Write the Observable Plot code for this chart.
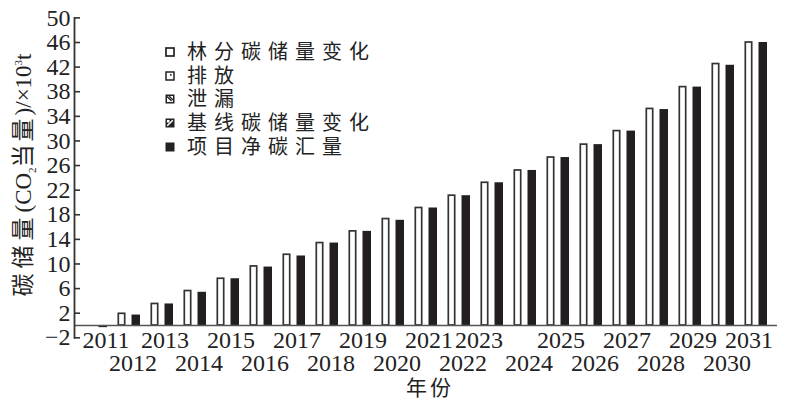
<!DOCTYPE html>
<html><head><meta charset="utf-8">
<script src="https://cdn.jsdelivr.net/npm/d3@7"></script>
<script src="https://cdn.jsdelivr.net/npm/@observablehq/plot@0.6"></script>
<style>
body{margin:0;background:#fff;}
#wrap{position:relative;width:788px;height:400px;}
.legend{position:absolute;left:165px;top:40px;font-family:"Liberation Serif","Noto Sans CJK SC";font-size:20px;letter-spacing:7px;color:#222;line-height:1;}
.legend .row{height:23.75px;display:flex;align-items:center;}
.legend svg{margin-right:12px;flex:none;}
</style></head><body><div id="wrap"></div>
<script>
const years = [2011,2012,2013,2014,2015,2016,2017,2018,2019,2020,2021,2022,2023,2024,2025,2026,2027,2028,2029,2030,2031];
const standStockChange = [0,1.9,3.5,5.6,7.6,9.6,11.5,13.4,15.3,17.3,19.1,21.1,23.2,25.2,27.3,29.4,31.6,35.2,38.75,42.5,46.0];
const emissions = [0,0,0,0,0,0,0,0,0,0,0,0,0,0,0,0,0,0,0,0,0];
const leakage = [0,0,0,0,0,0,0,0,0,0,0,0,0,0,0,0,0,0,0,0,0];
const baselineChange = [0,0,0,0,0,0,0,0,0,0,0,0,0,0,0,0,0,0,0,0,0];
const netSink = [-0.35,1.7,3.5,5.4,7.6,9.5,11.3,13.4,15.3,17.1,19.1,21.1,23.2,25.2,27.3,29.4,31.6,35.1,38.75,42.3,46.0];
const yTicks = [-2,2,6,10,14,18,22,26,30,34,38,42,46,50];
const seriesNames = ["林分碳储量变化","排放","泄漏","基线碳储量变化","项目净碳汇量"];
const xLabelRow1 = [2013,2015,2017,2019,2021,2025,2027,2029];
const xLabelRow2 = [2012,2014,2016,2018,2020,2022,2024,2026,2028,2030];
const xTitle = "年份";

const stand = years.map((y,i)=>({year:y, value:standStockChange[i]}));
const net = years.map((y,i)=>({year:y, value:netSink[i]}));

const W = 788, H = 400, mL = 74, mR = 11, mT = 17.4, mB = 62.7;
const frameW = W - mL - mR;

const chart = Plot.plot({
  width: W, height: H,
  marginTop: mT, marginBottom: mB, marginLeft: mL, marginRight: mR,
  x: {type: "band", domain: years, padding: 0, axis: null},
  y: {domain: [-2, 50], axis: null},
  style: {fontFamily: "'Liberation Serif', serif", fontSize: "24px", color: "#222", background: "#fff"},
  marks: [
    Plot.barY(stand, {x: "year", y: "value", fill: "#fff", stroke: "#333", strokeWidth: 1.7, insetLeft: 6.3, insetRight: 20.3}),
    Plot.barY(net, {x: "year", y: "value", fill: "#231f20", insetLeft: 19.5, insetRight: 5}),
    Plot.ruleY([0], {stroke: "#555", strokeWidth: 1.6}),
    Plot.frame({anchor: "left", stroke: "#333", strokeWidth: 1.8}),
    Plot.tickY(yTicks, {y: d => d, insetRight: frameW - 6, stroke: "#333", strokeWidth: 1.6}),
    Plot.axisY(yTicks, {tickSize: 0, tickPadding: 4, fontSize: 24, fill: "#222", label: null}),
    Plot.text(xLabelRow1, {x: d => d, text: d => String(d), frameAnchor: "bottom", lineAnchor: "middle", dy: 3, dx: 3, fontSize: 24, fill: "#222"}),
    Plot.text([2011], {x: d => d, text: d => String(d), frameAnchor: "bottom", lineAnchor: "middle", dy: 3, dx: 10, fontSize: 24, fill: "#222"}),
    Plot.text([2023], {x: d => d, text: d => String(d), frameAnchor: "bottom", lineAnchor: "middle", dy: 3, dx: -13, fontSize: 24, fill: "#222"}),
    Plot.text([2031], {x: d => d, text: d => String(d), frameAnchor: "bottom", lineAnchor: "middle", dy: 3, dx: -7, fontSize: 24, fill: "#222"}),
    Plot.text(xLabelRow2, {x: d => d, text: d => String(d), frameAnchor: "bottom", lineAnchor: "middle", dy: 26, dx: 4, fontSize: 24, fill: "#222"})
  ]
});

const svg = d3.select(chart);
// x title
svg.append("text").attr("x", 430).attr("y", 388).attr("dy", "0.35em").attr("text-anchor", "middle")
  .attr("font-family", "'Noto Sans CJK SC'").attr("font-size", 21).attr("letter-spacing", 3).attr("fill", "#222").text(xTitle);
// y title
const yl = svg.append("text").attr("transform", "translate(31,175) rotate(-90)").attr("text-anchor", "middle")
  .attr("font-size", 23).attr("fill", "#222").attr("font-family", "'Liberation Serif', serif");
yl.append("tspan").attr("font-family", "'Noto Sans CJK SC'").attr("letter-spacing", 5).text("碳储量");
yl.append("tspan").text("(CO");
yl.append("tspan").attr("font-size", 11).attr("dy", 5).text("2");
yl.append("tspan").attr("dy", -5).attr("font-family", "'Noto Sans CJK SC'").attr("letter-spacing", 3).text("当量");
yl.append("tspan").text(")/×10");
yl.append("tspan").attr("font-size", 11).attr("dy", -9).text("3");
yl.append("tspan").attr("dy", 9).text("t");

const wrap = document.getElementById("wrap");
wrap.appendChild(chart);

// legend
const swatches = [
  `<rect x="1" y="1" width="8" height="8" fill="#fff" stroke="#222" stroke-width="1.7"/>`,
  `<rect x="1" y="1" width="8" height="8" fill="#fff" stroke="#222" stroke-width="1.5"/><rect x="5" y="3" width="1.6" height="1.6" fill="#222"/>`,
  `<rect x="0.5" y="0.5" width="9" height="9" fill="#222"/><rect x="2" y="2" width="6" height="6" fill="#fff"/><path d="M2,2.5 L6.5,7 M4,2 L8,6" stroke="#222" stroke-width="1.3"/>`,
  `<rect x="0.5" y="0.5" width="9" height="9" fill="#222"/><path d="M2.2,7.8 L7.8,2.2" stroke="#fff" stroke-width="1.5"/><rect x="2" y="2" width="2.5" height="2.5" fill="#fff"/>`,
  `<rect x="0.5" y="0.5" width="9" height="9" fill="#222"/>`
];
const lg = document.createElement("div");
lg.className = "legend";
lg.innerHTML = seriesNames.map((n, i) =>
  `<div class="row"><svg width="10" height="10" viewBox="0 0 10 10">${swatches[i]}</svg><span>${n}</span></div>`).join("");
wrap.appendChild(lg);
</script>
</body></html>
